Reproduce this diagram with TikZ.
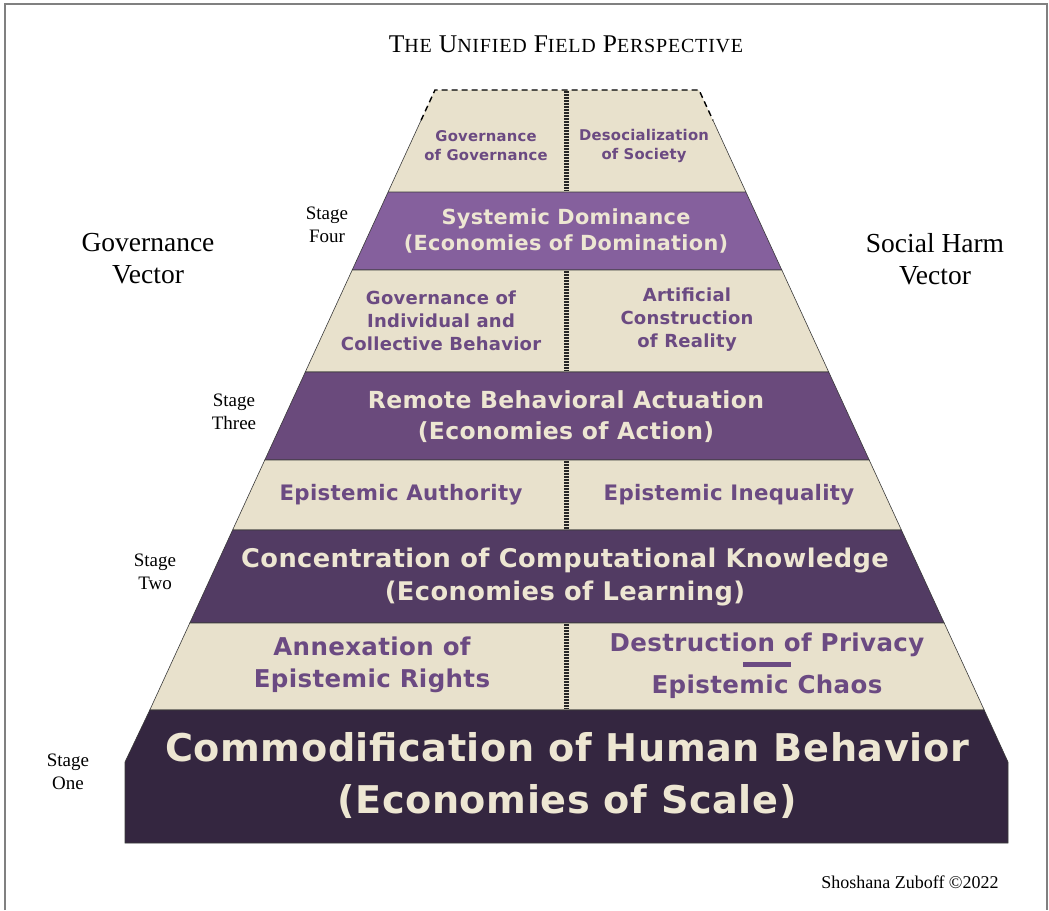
\documentclass[tikz,border=0pt]{standalone}
\usepackage{fontspec}
\usepackage{xcolor}
\usepackage{tikz}
\setmainfont{Liberation Serif}
\newfontfamily\bandfont{DejaVu Sans}[LetterSpace=1.5]
\newfontfamily\titlefont{Liberation Serif}[LetterSpace=4]
\definecolor{Cream}{HTML}{E8E1CC}
\definecolor{S4}{HTML}{85609D}
\definecolor{S3}{HTML}{6A4A7C}
\definecolor{S2}{HTML}{523B63}
\definecolor{S1}{HTML}{342640}
\definecolor{Ink}{HTML}{6B4A82}
\definecolor{Pale}{HTML}{EDE6D2}
\definecolor{Edge}{HTML}{3A3A3A}
\newcommand{\fsc}[2]{{\fontsize{25.5}{28}\selectfont #1}{\fontsize{20}{22}\selectfont #2}}
\tikzset{
  band/.style={draw=Edge, line width=0.6pt},
  split/.style={line width=5pt, black!85, dash pattern=on 1.6pt off 1.4pt},
  cell/.style={text=Ink, align=center, font=\bandfont\bfseries},
  stagetxt/.style={text=Pale, align=center, font=\bandfont\bfseries},
  sidelbl/.style={align=center, font=\fontsize{19}{23}\selectfont},
  vector/.style={align=center, font=\fontsize{27.5}{32}\selectfont},
}

\begin{document}
\begin{tikzpicture}[x=1pt,y=-1pt]%
\useasboundingbox (0,0) rectangle (1049,910);%
% frame
\draw[gray, line width=2pt] (5,910) -- (5,4) -- (1047,4) -- (1047,910);%
\node[font=\titlefont] (title) at (566,44) {\fsc{T}{HE}\hspace{7pt}\fsc{U}{NIFIED}\hspace{7pt}\fsc{F}{IELD}\hspace{7pt}\fsc{P}{ERSPECTIVE}};%
% bands, top to bottom
\fill[Cream] (435,90) -- (699,90) -- (745.9,192) -- (388.1,192) -- cycle;%
\draw[Edge, line width=0.6pt] (421,120.4) -- (388.1,192);%
\draw[Edge, line width=0.6pt] (713,120.4) -- (745.9,192);%
\draw[black, line width=1.4pt, dash pattern=on 6pt off 4pt] (421,120.4) -- (435,90) -- (699,90) -- (713,120.4);%
\draw[band, fill=S4] (388.1,192) -- (745.9,192) -- (781.8,270) -- (352.2,270) -- cycle;%
\draw[band, fill=Cream] (352.2,270) -- (781.8,270) -- (828.7,372) -- (305.3,372) -- cycle;%
\draw[band, fill=S3] (305.3,372) -- (828.7,372) -- (869.2,460) -- (264.8,460) -- cycle;%
\draw[band, fill=Cream] (264.8,460) -- (869.2,460) -- (901.4,530) -- (232.6,530) -- cycle;%
\draw[band, fill=S2] (232.6,530) -- (901.4,530) -- (944.2,623) -- (189.8,623) -- cycle;%
\draw[band, fill=Cream] (189.8,623) -- (944.2,623) -- (984.2,710) -- (149.8,710) -- cycle;%
\draw[band, fill=S1] (149.8,710) -- (984.2,710) -- (1008,762) -- (1008,843) -- (125,843) -- (125,762) -- cycle;%
% dividers in the cream bands
\draw[split] (566,91) -- (566,191);%
\draw[split] (566,271) -- (566,371);%
\draw[split] (566,461) -- (566,529);%
\draw[split] (566,624) -- (566,709);%
% stage four
\node[cell, font=\bandfont\bfseries\fontsize{14.8}{19}\selectfont] (govgov) at (486,146) {Governance\\of Governance};%
\node[cell, font=\bandfont\bfseries\fontsize{14.8}{19}\selectfont] (desoc) at (644,146) {Desocialization\\of Society};%
\node[stagetxt, font=\bandfont\bfseries\fontsize{20.8}{26}\selectfont] (dominance) at (566,231) {Systemic Dominance\\(Economies of Domination)};%
% stage three
\node[cell, font=\bandfont\bfseries\fontsize{18}{23}\selectfont] (govbeh) at (441,321) {Governance of\\Individual and\\Collective Behavior};%
\node[cell, font=\bandfont\bfseries\fontsize{18}{23}\selectfont] (artif) at (687,320) {Artificial\\Construction\\of Reality};%
\node[stagetxt, font=\bandfont\bfseries\fontsize{23.5}{31}\selectfont] (actuation) at (566,417) {Remote Behavioral Actuation\\(Economies of Action)};%
% stage two
\node[cell, font=\bandfont\bfseries\fontsize{21.3}{24}\selectfont] (authority) at (401,495) {Epistemic Authority};%
\node[cell, font=\bandfont\bfseries\fontsize{21.3}{24}\selectfont] (inequality) at (729,495) {Epistemic Inequality};%
\node[stagetxt, font=\bandfont\bfseries\fontsize{25.7}{33}\selectfont] (knowledge) at (565,577) {Concentration of Computational Knowledge\\(Economies of Learning)};%
% stage one
\node[cell, font=\bandfont\bfseries\fontsize{24.5}{32}\selectfont] (annex) at (372,665) {Annexation of\\Epistemic Rights};%
\node[cell, font=\bandfont\bfseries\fontsize{24.5}{21}\selectfont] (privacy) at (767,666) {Destruction of Privacy\\{\color{Ink}\rule[6pt]{48pt}{5pt}}\\Epistemic Chaos};%
\node[stagetxt, font=\bandfont\bfseries\fontsize{38.2}{52}\selectfont] (scale) at (567,775) {Commodification of Human Behavior\\(Economies of Scale)};%
% labels beside the pyramid
\node[vector] (govvec) at (148,259) {Governance\\Vector};%
\node[vector] (harmvec) at (935,259) {Social Harm\\Vector};%
\node[sidelbl] (four) at (327,225) {Stage\\Four};%
\node[sidelbl] (three) at (234,412) {Stage\\Three};%
\node[sidelbl] (two) at (155,572) {Stage\\Two};%
\node[sidelbl] (one) at (68,772) {Stage\\One};%
\node[font=\fontsize{18}{21}\selectfont] (credit) at (910,882) {Shoshana Zuboff \textcopyright2022};%
\end{tikzpicture}
\end{document}
